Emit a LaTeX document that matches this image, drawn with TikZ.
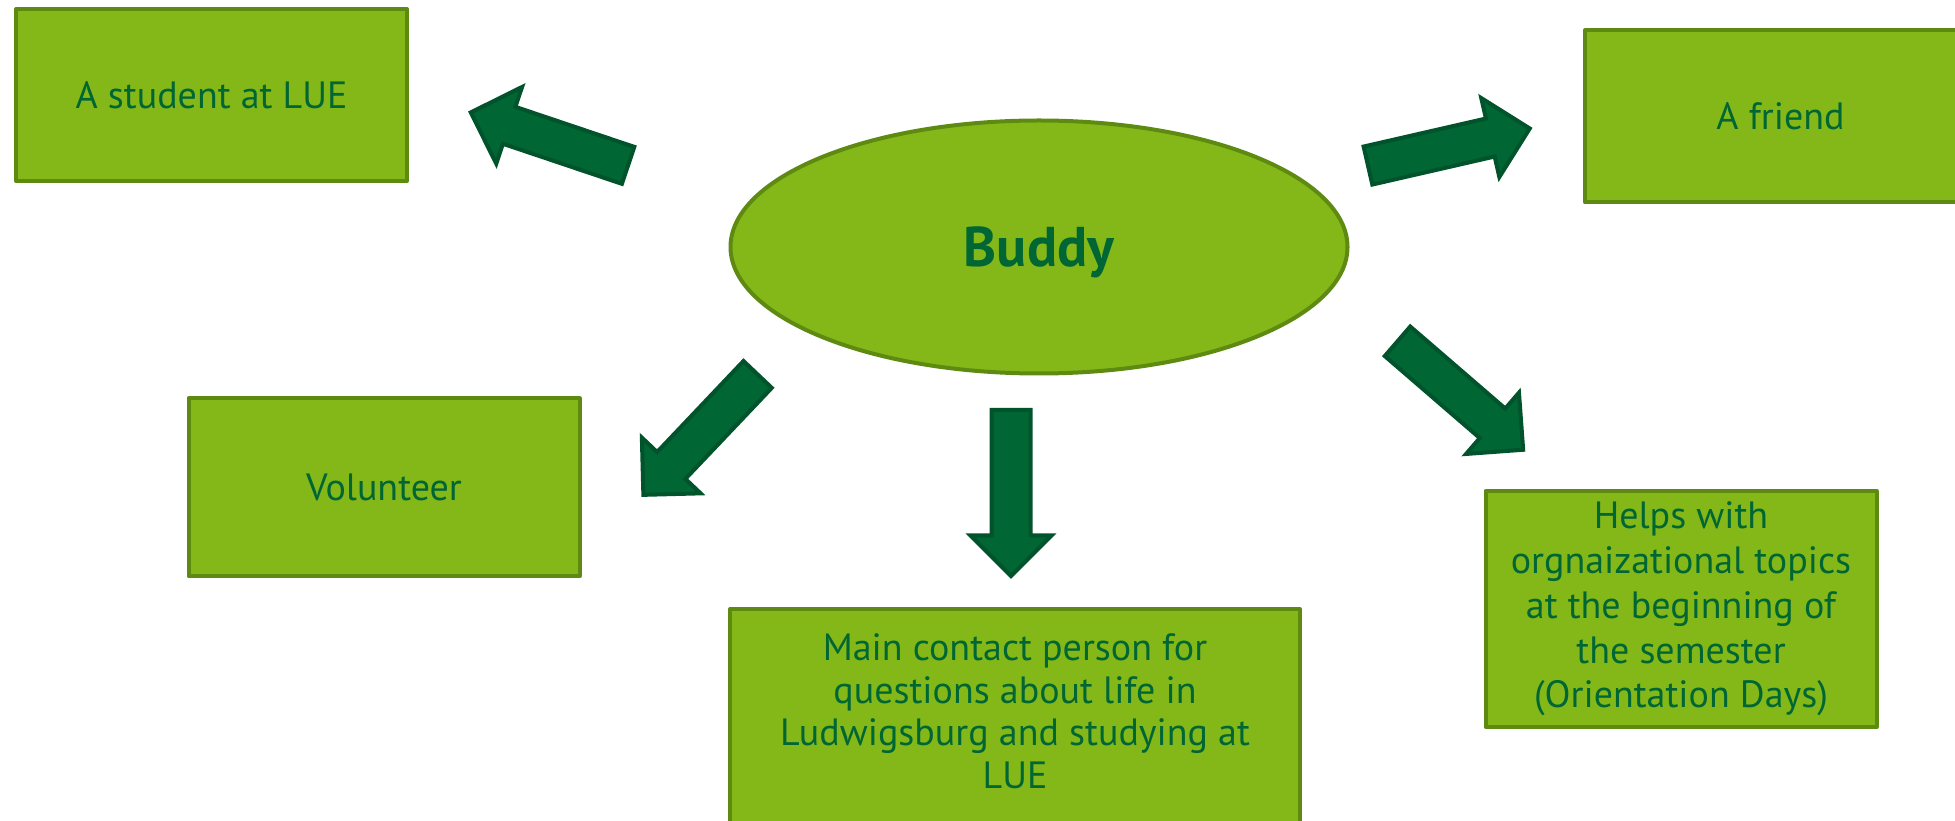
\documentclass[tikz,border=0pt]{standalone}
\usepackage{fontspec}
\setmainfont{PT Sans}
\usetikzlibrary{shapes,shapes.geometric,shapes.arrows}
\definecolor{leaf}{HTML}{84B819}
\definecolor{leafdark}{HTML}{5E8A12}
\definecolor{pine}{HTML}{006633}
\definecolor{pinedark}{HTML}{00532A}
\tikzset{
  x=1pt, y=1pt,
  info_n/.style = {rectangle, align=center, inner sep=0pt, text=pine, font=\fontsize{38}{44.75}\selectfont, draw=leafdark, fill=leaf, line width=4pt, line join=round, minimum width=391pt, minimum height=172pt},
  buddy_n/.style = {ellipse, inner sep=0pt, text=pine, font=\fontsize{56}{62}\selectfont\bfseries, text depth=0pt, draw=leafdark, fill=leaf, line width=4pt, minimum width=617pt, minimum height=253pt},
  arr_n/.style = {single arrow, anchor=tail, inner xsep=0pt, inner ysep=17.5pt, draw=pinedark, fill=pine, line width=4pt, minimum height=166pt, single arrow head extend=21pt}
}
\begin{document}
\begin{tikzpicture}
\useasboundingbox (0,0) rectangle (1955,820);
\node [buddy_n] (buddy) at (1039,573) {Buddy};
\node [info_n] (student) at (211.5,725) {A student at LUE};
\node [info_n] (friend) at (1780.5,703.5) {A friend};
\node [info_n, minimum height=178pt] (volunteer) at (384,332.5) {Volunteer};
\node [info_n, minimum height=236pt] (helps) at (1681,211) {Helps with\\orgnaizational topics\\at the beginning of\\the semester\\(Orientation Days)};
\node [info_n, anchor=north, minimum width=570pt, minimum height=0pt, inner ysep=25pt, font=\fontsize{38}{42.5}\selectfont] (contact) at (1015,213) {Main contact person for\\questions about life in\\Ludwigsburg and studying at\\LUE\\\mbox{}};
\node [arr_n, rotate=161.4] (to_student) at (630,654) {};
\node [arr_n, rotate=12.9] (to_friend) at (1366,654) {};
\node [arr_n, rotate=226.5] (to_volunteer) at (759,447) {};
\node [arr_n, rotate=270] (to_contact) at (1011,412) {};
\node [arr_n, rotate=-40.8] (to_helps) at (1396,480) {};
\end{tikzpicture}
\end{document}
